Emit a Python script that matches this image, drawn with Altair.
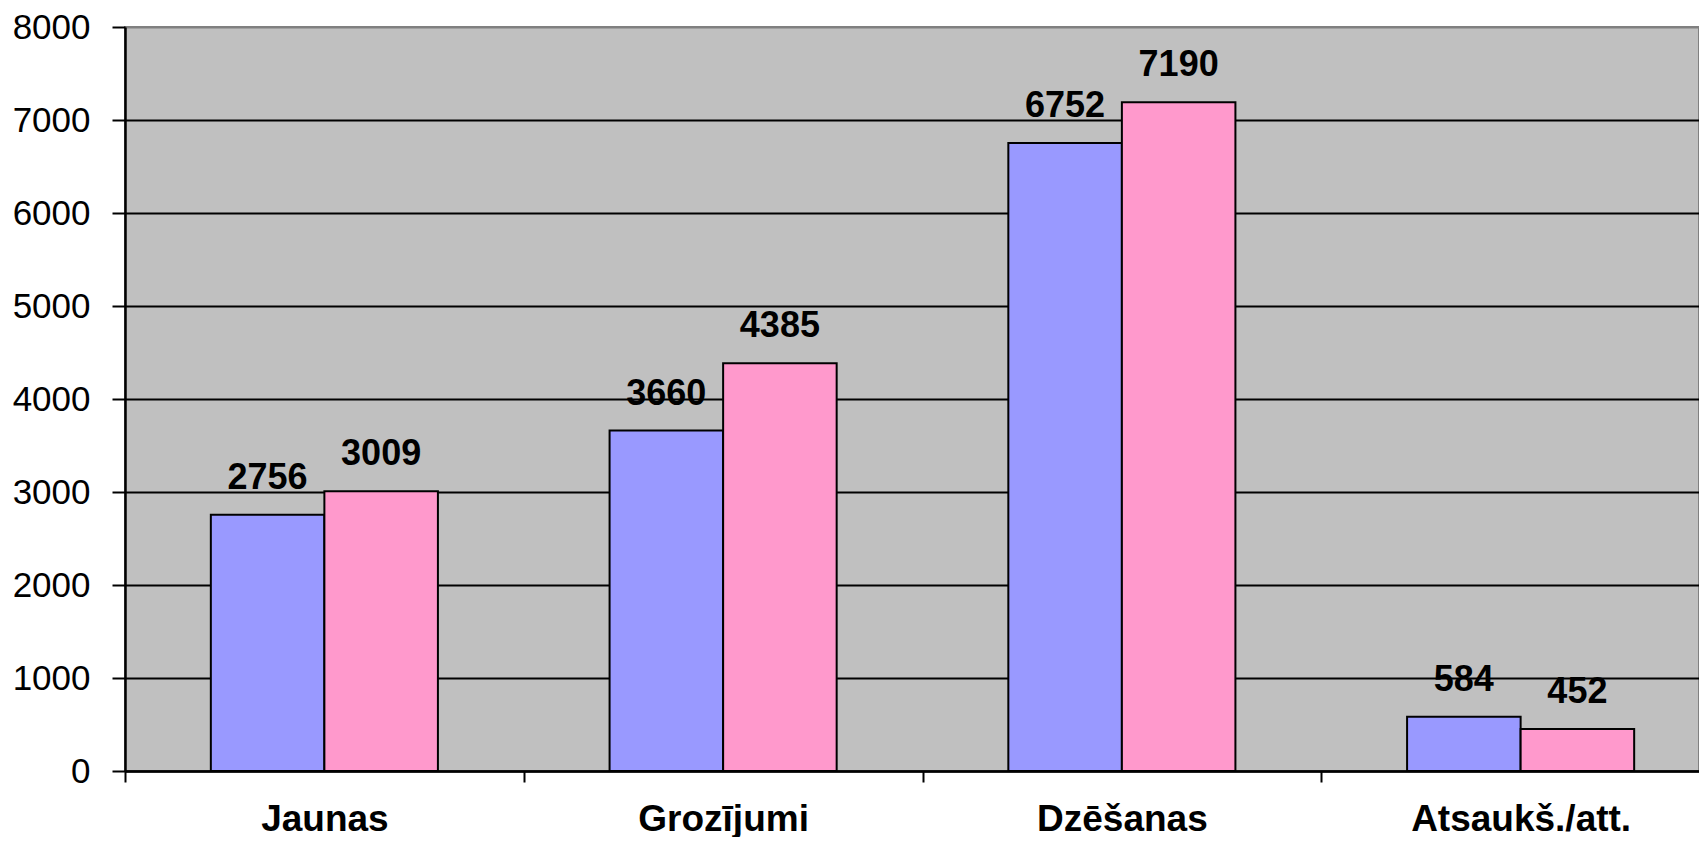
import altair as alt
import pandas as pd

categories = ["Jaunas", "Grozījumi", "Dzēšanas", "Atsaukš./att."]
series = ["Sērija 1", "Sērija 2"]
values_1 = [2756, 3660, 6752, 584]
values_2 = [3009, 4385, 7190, 452]
y_ticks = [0, 1000, 2000, 3000, 4000, 5000, 6000, 7000, 8000]
colors = ["#9999FF", "#FF99CC"]

rows = []
for c, a, b in zip(categories, values_1, values_2):
    rows.append({"cat": c, "series": series[0], "value": a})
    rows.append({"cat": c, "series": series[1], "value": b})
df = pd.DataFrame(rows)

FONT = "Liberation Sans"

x_enc = alt.X(
    "cat:N",
    sort=categories,
    scale=alt.Scale(range=[0, 1595], paddingInner=0, paddingOuter=0),
    axis=alt.Axis(
        title=None,
        labelAngle=0,
        labelFont=FONT,
        labelFontSize=37,
        labelFontWeight="bold",
        labelColor="black",
        labelBaseline="alphabetic",
        labelPadding=48,
        labelLimit=0,
        tickBand="extent",
        tickSize=11,
        tickWidth=2,
        tickColor="black",
        domainColor="black",
        domainWidth=2.5,
        grid=False,
    ),
)
xoff_enc = alt.XOffset(
    "series:N",
    sort=series,
    scale=alt.Scale(paddingOuter=0.756, paddingInner=0),
)
y_enc = alt.Y(
    "value:Q",
    scale=alt.Scale(domain=[0, 8000], nice=False),
    axis=alt.Axis(
        title=None,
        values=y_ticks,
        format="d",
        labelFont=FONT,
        labelFontSize=35,
        labelColor="black",
        labelPadding=22,
        labelLimit=0,
        tickSize=13,
        tickWidth=2,
        tickColor="black",
        domainColor="black",
        domainWidth=2.5,
        grid=True,
        gridColor={"condition": {"test": "datum.value === 8000", "value": "#808080"}, "value": "black"},
        gridWidth=2,
        gridOpacity=1,
    ),
)

base = alt.Chart(df).encode(x=x_enc, xOffset=xoff_enc, y=y_enc)

bars = base.mark_bar(stroke="black", strokeWidth=2).encode(
    color=alt.Color("series:N", sort=series, scale=alt.Scale(domain=series, range=colors), legend=None)
)
labels = base.mark_text(
    font=FONT, fontSize=36, fontWeight="bold", color="black",
    baseline="alphabetic", align="center", dy=-26,
).encode(text=alt.Text("value:Q", format="d"))

chart = (
    alt.layer(bars, labels)
    .properties(
        width=1574,
        height=744,
        autosize=alt.AutoSizeParams(type="none"),
        padding={"left": 117, "top": 19, "right": 0, "bottom": 66},
        background="white",
    )
    .configure_view(fill="#C0C0C0", stroke="#808080", strokeWidth=2)
)

chart.save("out.html", embed_options={"renderer": "svg", "actions": False})
